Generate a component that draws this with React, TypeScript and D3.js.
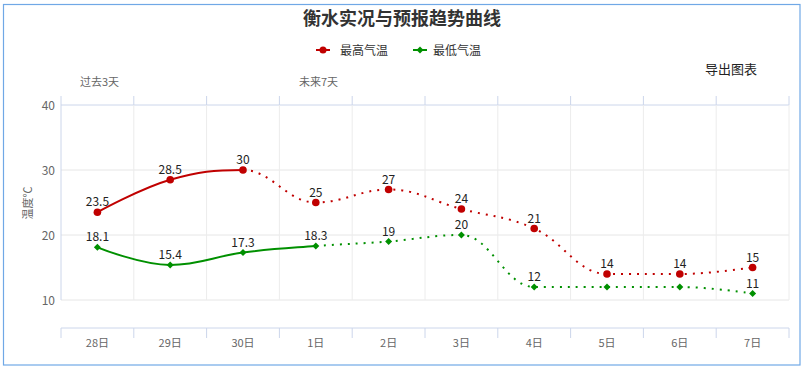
import * as d3 from "d3";

const days = ["28日", "29日", "30日", "1日", "2日", "3日", "4日", "5日", "6日", "7日"];
const maxTemp = [23.5, 28.5, 30, 25, 27, 24, 21, 14, 14, 15];
const minTemp = [18.1, 15.4, 17.3, 18.3, 19, 20, 12, 12, 12, 11];
const maxSolidUntil = 2; // index where forecast (dotted) starts
const minSolidUntil = 3;
// labels hidden because they collide with the other series' markers
const minHiddenLabels = [7, 8];
const yTicks = [10, 20, 30, 40];

const FONT = "'Noto Sans CJK SC', 'Noto Sans', sans-serif";
const RED = "#c00000";
const GREEN = "#009000";

type Pt = [number, number];

// Highcharts-like spline segments: returns one cubic segment per gap
function splineSegments(pts: Pt[]): string[] {
  const smoothing = 1.5;
  const denom = smoothing + 1;
  const right: (Pt | null)[] = pts.map(() => null);
  const left: (Pt | null)[] = pts.map(() => null);
  for (let i = 1; i < pts.length - 1; i++) {
    const [x, y] = pts[i];
    const [lx, ly] = pts[i - 1];
    const [nx, ny] = pts[i + 1];
    const lcx = (smoothing * x + lx) / denom;
    let lcy = (smoothing * y + ly) / denom;
    const rcx = (smoothing * x + nx) / denom;
    let rcy = (smoothing * y + ny) / denom;
    const corr = ((rcy - lcy) * (rcx - x)) / (rcx - lcx) + y - rcy;
    lcy += corr;
    rcy += corr;
    if (lcy > ly && lcy > y) { lcy = Math.max(ly, y); rcy = 2 * y - lcy; }
    else if (lcy < ly && lcy < y) { lcy = Math.min(ly, y); rcy = 2 * y - lcy; }
    if (rcy > ny && rcy > y) { rcy = Math.max(ny, y); lcy = 2 * y - rcy; }
    else if (rcy < ny && rcy < y) { rcy = Math.min(ny, y); lcy = 2 * y - rcy; }
    left[i] = [lcx, lcy];
    right[i] = [rcx, rcy];
  }
  const segs: string[] = [];
  for (let i = 1; i < pts.length; i++) {
    const a = right[i - 1] || pts[i - 1];
    const b = left[i] || pts[i];
    segs.push(`C${a[0]},${a[1]} ${b[0]},${b[1]} ${pts[i][0]},${pts[i][1]}`);
  }
  return segs;
}

function SeriesLine({ values, split, color, x, y, marker, hidden = [] }: any) {
  const pts: Pt[] = values.map((v: number, i: number) => [x(i), y(v)]);
  const segs = splineSegments(pts);
  const solid = `M${pts[0][0]},${pts[0][1]}` + segs.slice(0, split).join("");
  const dotted = `M${pts[split][0]},${pts[split][1]}` + segs.slice(split).join("");
  return (
    <g>
      <path d={solid} fill="none" stroke={color} strokeWidth={2} strokeLinecap="round" />
      <path d={dotted} fill="none" stroke={color} strokeWidth={2} strokeDasharray="2,6" />
      {pts.map((p, i) =>
        marker === "circle" ? (
          <circle key={i} cx={p[0]} cy={p[1]} r={3.8} fill={color} />
        ) : (
          <path key={i} d={`M${p[0]},${p[1] - 3.5}L${p[0] + 3.5},${p[1]}L${p[0]},${p[1] + 3.5}L${p[0] - 3.5},${p[1]}Z`} fill={color} />
        )
      )}
      {pts.map((p, i) =>
        hidden.includes(i) ? null : (
          <text key={"t" + i} x={p[0]} y={p[1] - 6} textAnchor="middle" fontSize={12} fill="#222" fontFamily={FONT}>
            {values[i]}
          </text>
        )
      )}
    </g>
  );
}

export default function App() {
  const width = 805, height = 368;
  const left = 61, right = 789, top = 105, bottom = 300;
  const band = d3.scaleBand<number>().domain(d3.range(days.length)).range([left, right]);
  const x = (i: number) => (band(i) as number) + band.bandwidth() / 2;
  const y = d3.scaleLinear().domain([10, 40]).range([bottom, top]);
  const bounds = d3.range(days.length + 1).map((i) => left + i * band.bandwidth());
  const axisY = 328;

  return (
    <svg width={width} height={height} style={{ position: "absolute", left: 0, top: 0 }} fontFamily={FONT}>
      <rect x={3.5} y={4.5} width={796.5} height={360.5} fill="#fff" stroke="#70a8e6" strokeWidth={1.2} />
      <text x={402} y={25} textAnchor="middle" fontSize={18} fontWeight="bold" fill="#333">衡水实况与预报趋势曲线</text>

      {/* legend */}
      <g>
        <line x1={316} x2={330} y1={50} y2={50} stroke={RED} strokeWidth={2} />
        <circle cx={323} cy={50} r={3.5} fill={RED} />
        <text x={340} y={54.5} fontSize={12} fill="#333">最高气温</text>
        <line x1={413} x2={427} y1={50} y2={50} stroke={GREEN} strokeWidth={2} />
        <path d="M420,46.5L423.5,50L420,53.5L416.5,50Z" fill={GREEN} />
        <text x={433} y={54.5} fontSize={12} fill="#333">最低气温</text>
      </g>

      <text x={757} y={74} textAnchor="end" fontSize={13} fill="#222">导出图表</text>
      <text x={80} y={86} fontSize={11} fill="#666">过去3天</text>
      <text x={299} y={86} fontSize={11} fill="#666">未来7天</text>

      {/* grid */}
      {yTicks.map((t) => (
        <line key={t} x1={left} x2={right} y1={y(t)} y2={y(t)} stroke={t === 40 ? "#ccd6eb" : "#e6e6e6"} />
      ))}
      {bounds.map((b, i) => (
        <g key={i}>
          <line x1={b} x2={b} y1={top} y2={bottom} stroke={i === 0 ? "#ccd6eb" : "#ececec"} />
          <line x1={b} x2={b} y1={96} y2={top} stroke="#ccd6eb" />
          <line x1={b} x2={b} y1={axisY} y2={axisY + 10} stroke="#ccd6eb" />
        </g>
      ))}
      <line x1={left} x2={right} y1={axisY} y2={axisY} stroke="#ccd6eb" />

      {yTicks.map((t) => (
        <text key={t} x={55} y={y(t) + 4.5} textAnchor="end" fontSize={12} fill="#666">{t}</text>
      ))}
      <text transform="translate(32,203) rotate(-90)" textAnchor="middle" fontSize={11} fill="#666">温度℃</text>

      {days.map((d, i) => (
        <text key={d} x={x(i)} y={347} textAnchor="middle" fontSize={11} fill="#666">{d}</text>
      ))}

      <SeriesLine values={maxTemp} split={maxSolidUntil} color={RED} x={x} y={y} marker="circle" />
      <SeriesLine values={minTemp} split={minSolidUntil} color={GREEN} x={x} y={y} marker="diamond" hidden={minHiddenLabels} />
    </svg>
  );
}
